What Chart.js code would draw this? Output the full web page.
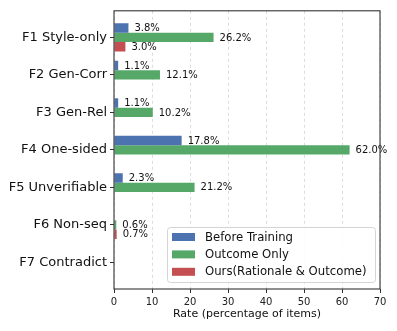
<!DOCTYPE html>
<html>
<head>
<meta charset="utf-8">
<script src="https://cdn.jsdelivr.net/npm/chart.js@4"></script>
<style>
  html, body { margin: 0; padding: 0; background: #fff; }
  #wrap { width: 397px; height: 331px; }
</style>
</head>
<body>
<div id="wrap"><canvas id="chart" width="397" height="331"></canvas></div>
<script>
// Categories (top to bottom) and series values (percent of items)
const categories = ['F1 Style-only', 'F2 Gen-Corr', 'F3 Gen-Rel', 'F4 One-sided',
                    'F5 Unverifiable', 'F6 Non-seq', 'F7 Contradict'];
const beforeTraining = [3.8, 1.1, 1.1, 17.8, 2.3, 0.0, 0.0];
const outcomeOnly    = [26.2, 12.1, 10.2, 62.0, 21.2, 0.6, 0.0];
const oursRationale  = [3.0, 0.0, 0.0, 0.0, 0.1, 0.7, 0.0];
const seriesNames = ['Before Training', 'Outcome Only', 'Ours(Rationale & Outcome)'];
const xTicks = [0, 10, 20, 30, 40, 50, 60, 70];

const colors = ['#4C72B0', '#55A868', '#C44E52'];
const FONT = "'DejaVu Sans', sans-serif";

function toPoints(values) {
    return values.map((v, i) => ({ x: v, y: i }));
}

// value labels next to bar ends
const valueLabels = {
    id: 'valueLabels',
    afterDatasetsDraw(chart) {
        const ctx = chart.ctx;
        ctx.save();
        ctx.font = '10px ' + FONT;
        ctx.fillStyle = '#111';
        ctx.textAlign = 'left';
        ctx.textBaseline = 'middle';
        chart.data.datasets.forEach((ds, di) => {
            const meta = chart.getDatasetMeta(di);
            meta.data.forEach((el, i) => {
                const v = ds.data[i].x;
                if (v < 0.5) return;
                ctx.fillText(v.toFixed(1) + '%', el.x + 6, el.y + 0.5);
            });
        });
        ctx.restore();
    }
};

// axes frame + legend box inside the plot
const frameAndLegend = {
    id: 'frameAndLegend',
    afterDraw(chart) {
        const ctx = chart.ctx;
        const a = chart.chartArea;
        ctx.save();
        ctx.strokeStyle = '#333';
        ctx.lineWidth = 1.1;
        ctx.strokeRect(a.left, a.top, a.right - a.left, a.bottom - a.top);

        // legend
        const bx = 167, by = 227, bw = 208, bh = 55, r = 3;
        ctx.beginPath();
        ctx.roundRect(bx + 0.5, by + 0.5, bw, bh, r);
        ctx.fillStyle = 'rgba(255,255,255,0.9)';
        ctx.fill();
        ctx.strokeStyle = '#d4d4d4';
        ctx.lineWidth = 1;
        ctx.stroke();

        ctx.font = '11.7px ' + FONT;
        ctx.textAlign = 'left';
        ctx.textBaseline = 'middle';
        seriesNames.forEach((name, i) => {
            const cy = 237 + i * 17.4;
            ctx.fillStyle = colors[i];
            ctx.fillRect(172, cy - 4, 23, 8);
            ctx.fillStyle = '#111';
            ctx.fillText(name, 205, cy + 0.5);
        });
        ctx.restore();
    }
};

new Chart(document.getElementById('chart'), {
    type: 'bar',
    data: {
        datasets: [
            { label: seriesNames[0], data: toPoints(beforeTraining), backgroundColor: colors[0] },
            { label: seriesNames[1], data: toPoints(outcomeOnly), backgroundColor: colors[1] },
            { label: seriesNames[2], data: toPoints(oursRationale), backgroundColor: colors[2] }
        ]
    },
    options: {
        indexAxis: 'y',
        responsive: false,
        animation: false,
        events: [],
        categoryPercentage: 0.75,
        barPercentage: 1.0,
        layout: { padding: { top: 10, right: 17, left: 0, bottom: 0 } },
        scales: {
            x: {
                type: 'linear',
                min: 0,
                max: 70,
                afterBuildTicks(scale) {
                    scale.ticks = xTicks.map(v => ({ value: v }));
                },
                afterFit(scale) { scale.height = 42; },
                ticks: {
                    color: '#222',
                    font: { family: FONT, size: 10 },
                    padding: 3
                },
                grid: {
                    color: '#d9d9d9',
                    lineWidth: 0.9,
                    tickColor: '#333',
                    tickLength: 4,
                    tickWidth: 1,
                    tickBorderDash: []
                },
                border: { display: false, dash: [3, 3] },
                title: {
                    display: true,
                    text: 'Rate (percentage of items)',
                    color: '#111',
                    font: { family: FONT, size: 11 },
                    padding: { top: 2, bottom: 10 }
                }
            },
            y: {
                type: 'linear',
                reverse: true,
                offset: false,
                min: -0.71,
                max: 6.71,
                afterBuildTicks(scale) {
                    scale.ticks = categories.map((c, i) => ({ value: i }));
                },
                afterFit(scale) { scale.width = 114; },
                ticks: {
                    color: '#111',
                    font: { family: FONT, size: 13 },
                    padding: 3,
                    callback: (v) => categories[v]
                },
                grid: {
                    offset: false,
                    drawOnChartArea: false,
                    tickColor: '#333',
                    tickLength: 4,
                    tickWidth: 1
                },
                border: { display: false }
            }
        },
        plugins: {
            legend: { display: false },
            tooltip: { enabled: false }
        }
    },
    plugins: [valueLabels, frameAndLegend]
});
</script>
</body>
</html>
